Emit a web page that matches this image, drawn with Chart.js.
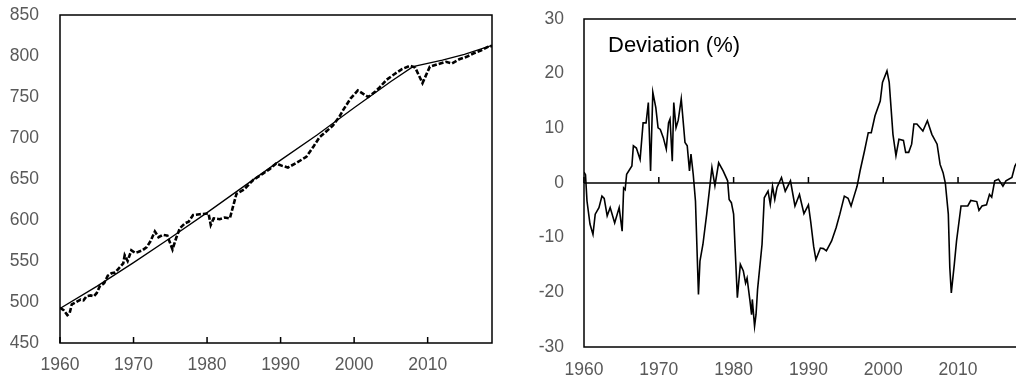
<!DOCTYPE html>
<html>
<head>
<meta charset="utf-8">
<script src="https://cdn.jsdelivr.net/npm/chart.js@4/dist/chart.umd.min.js"></script>
<style>
  html, body { margin: 0; padding: 0; background: #fff; overflow: hidden; width: 1016px; height: 381px; }
  #left { position: absolute; left: 0; top: 0; }
  #right { position: absolute; left: 505px; top: 0; }
</style>
</head>
<body>
<canvas id="left" width="505" height="381"></canvas>
<canvas id="right" width="525" height="381"></canvas>
<script>
// Left panel: trend (solid) and actual (dashed)
const trendYears = [1960, 1965, 1970, 1975, 1980, 1985, 1990, 1995, 2000, 2005, 2008, 2012, 2015, 2018.75];
const trendValues = [492, 519, 548, 578, 609, 641, 673, 704, 737, 769, 787, 795, 802, 813];

const actualYears = [1960.0, 1960.5, 1961.0, 1961.3, 1961.6, 1962.2, 1962.8, 1963.2, 1963.6, 1964.2, 1964.6, 1965.0,
  1965.4, 1966.0, 1966.5, 1967.0, 1967.5, 1968.0, 1968.6, 1968.8, 1969.2, 1969.7, 1970.2, 1970.6, 1971.2, 1971.8,
  1972.3, 1972.9, 1973.4, 1974.0, 1974.6, 1975.3, 1975.8, 1976.3, 1977.0, 1977.5, 1978.1, 1979.0, 1980.2, 1980.5,
  1980.9, 1981.7, 1982.4, 1983.1, 1984.0, 1985.0, 1986.3, 1987.5, 1988.5, 1989.4, 1990.2, 1991.0, 1992.2, 1993.5,
  1994.5, 1995.3, 1996.2, 1997.1, 1998.0, 1998.5, 1999.5, 2000.5, 2001.9, 2002.8, 2003.5, 2004.4, 2005.5, 2006.5,
  2007.6, 2008.3, 2009.3, 2010.3, 2011.4, 2012.5, 2013.3, 2014.3, 2015.3, 2016.2, 2017.3, 2018.4, 2018.75];
const actualValues = [493, 490, 484, 486, 497, 500, 503, 502, 507, 508, 507, 511,
  519, 523, 532, 535, 536, 541, 547, 557, 550, 563, 560, 561, 563, 567,
  574, 586, 579, 582, 581, 564, 578, 590, 596, 598, 606, 607, 608, 594,
  602, 601, 603, 602, 632, 637, 649, 656, 662, 669, 666, 664, 670, 677,
  690, 701, 708, 715, 726, 734, 748, 758, 750, 756, 762, 771, 778, 784,
  788, 786, 767, 787, 790, 793, 791, 796, 799, 803, 807, 812, 812];

// Right panel: deviation (%)
const devYears = [1960.0, 1960.2, 1960.4, 1960.8, 1961.2, 1961.5, 1962.0, 1962.4, 1962.7, 1963.1, 1963.5, 1964.1,
  1964.7, 1965.1, 1965.3, 1965.5, 1965.7, 1966.4, 1966.6, 1967.0, 1967.5, 1967.9, 1968.3, 1968.6, 1968.9, 1969.2,
  1969.6, 1969.9, 1970.2, 1970.6, 1971.0, 1971.3, 1971.5, 1971.8, 1972.0, 1972.3, 1972.6, 1973.0, 1973.5, 1973.8,
  1974.1, 1974.3, 1974.6, 1974.9, 1975.3, 1975.5, 1975.9, 1976.4, 1976.8, 1977.1, 1977.5, 1978.0, 1978.6, 1979.2,
  1979.4, 1979.7, 1980.0, 1980.2, 1980.5, 1980.9, 1981.3, 1981.6, 1981.8, 1982.2, 1982.4, 1982.5, 1982.8, 1983.0,
  1983.2, 1983.8, 1984.1, 1984.6, 1984.9, 1985.2, 1985.5, 1985.8, 1986.4, 1986.9, 1987.6, 1988.2, 1988.8, 1989.4,
  1990.0, 1990.3, 1990.7, 1991.0, 1991.6, 1992.0, 1992.4, 1993.1, 1993.7, 1994.2, 1994.8, 1995.3, 1995.7, 1996.1,
  1996.5, 1996.9, 1997.5, 1998.0, 1998.4, 1998.9, 1999.6, 1999.9, 2000.5, 2000.8, 2001.3, 2001.7, 2002.1, 2002.7,
  2003.0, 2003.4, 2003.8, 2004.1, 2004.5, 2005.3, 2005.9, 2006.5, 2007.2, 2007.6, 2008.0, 2008.3, 2008.7, 2008.9,
  2009.1, 2009.5, 2009.8, 2010.4, 2011.3, 2011.7, 2012.5, 2012.8, 2013.2, 2013.8, 2014.2, 2014.5, 2014.9, 2015.4,
  2016.0, 2016.4, 2017.2, 2017.6, 2018.2, 2018.75];
const devValues = [2, 1.5, -3.3, -7.5, -9.4, -5.7, -4.5, -2.4, -2.8, -6, -4.5, -7.3,
  -4.5, -8.8, -0.9, -1.2, 1.6, 3.1, 6.8, 6.4, 4.3, 11, 11, 14.7, 2.2, 16.6,
  13.8, 10.1, 9.8, 8.3, 6.2, 11, 11.7, 4, 14.7, 10.1, 11.5, 15.4, 7.4, 6.8,
  2.2, 5.3, 1.6, -3.3, -20.4, -14.3, -11.2, -5.7, -0.9, 2.8, -0.5, 3.7, 2.2, 0.4,
  -3, -3.6, -5.7, -11.9, -21, -14.9, -16.1, -18.3, -17.4, -21.7, -24.1, -21.3, -26.2, -24,
  -19.5, -11.2, -2.7, -1.5, -3.9, -0.6, -3, -0.8, 1, -1.5, 0.4, -4.2, -2.1, -5.6,
  -4, -7, -11.6, -14, -11.9, -12, -12.4, -10.6, -8.2, -5.7, -2.4, -2.8, -4.2, -2.4,
  -0.6, 2.2, 5.9, 9.2, 9.2, 12.3, 15, 18.4, 20.5, 18.4, 8.9, 5, 8, 7.8,
  5.6, 5.6, 7.1, 10.8, 10.8, 9.5, 11.4, 8.9, 7.1, 3.4, 1.9, 0, -5.7, -15.5,
  -20.1, -14.9, -10.6, -4.2, -4.2, -3.2, -3.4, -5, -4.2, -4, -2.1, -2.6, 0.4, 0.7,
  -0.6, 0.4, 1, 3.1, 4.5, 5];

const xTicks = [1960, 1970, 1980, 1990, 2000, 2010];
const leftYTicks = [450, 500, 550, 600, 650, 700, 750, 800, 850];
const rightYTicks = [-30, -20, -10, 0, 10, 20, 30];

const FONT = "'Liberation Sans', Arial, sans-serif";
const LABEL_COLOR = '#595959';
const TICK_SIZE = 17.5;

const toPoints = (xs, ys) => xs.map((x, i) => ({ x, y: ys[i] }));

// box around the plot, inward tick marks on the baseline, optional zero line and caption
const framePlugin = {
  id: 'frame',
  afterDraw(chart, args, opts) {
    const { ctx, chartArea: a, scales } = chart;
    const baseY = opts.zeroLine ? scales.y.getPixelForValue(0) : a.bottom;
    ctx.save();
    ctx.strokeStyle = '#000';
    ctx.lineWidth = 1.5;
    ctx.strokeRect(a.left, a.top, a.right - a.left, a.bottom - a.top);
    ctx.beginPath();
    if (opts.zeroLine) { ctx.moveTo(a.left, baseY); ctx.lineTo(a.right, baseY); }
    xTicks.forEach(v => {
      const x = scales.x.getPixelForValue(v);
      ctx.moveTo(x, baseY); ctx.lineTo(x, baseY - 6);
    });
    ctx.stroke();
    if (opts.caption) {
      ctx.fillStyle = '#000';
      ctx.font = `22px ${FONT}`;
      ctx.textBaseline = 'middle';
      ctx.fillText(opts.caption, a.left + 24, a.top + 27);
    }
    ctx.restore();
  }
};

const makeScales = (yMin, yMax, yTicks, yWidth, yPad, xHeight, xPad) => ({
  x: {
    type: 'linear', min: 1960, max: 2018.75,
    afterBuildTicks: s => { s.ticks = xTicks.map(v => ({ value: v })); },
    afterFit: s => { s.height = xHeight; s.paddingLeft = 0; s.paddingRight = 0; },
    grid: { display: false, drawTicks: false },
    border: { display: false },
    ticks: { color: LABEL_COLOR, font: { family: FONT, size: TICK_SIZE }, padding: xPad, maxRotation: 0, autoSkip: false, callback: v => String(v) }
  },
  y: {
    min: yMin, max: yMax,
    afterBuildTicks: s => { s.ticks = yTicks.map(v => ({ value: v })); },
    afterFit: s => { s.width = yWidth; s.paddingTop = 0; s.paddingBottom = 0; },
    grid: { display: false, drawTicks: false },
    border: { display: false },
    ticks: { color: LABEL_COLOR, font: { family: FONT, size: TICK_SIZE }, padding: yPad, autoSkip: false, callback: v => String(v) }
  }
});

new Chart(document.getElementById('left'), {
  type: 'line',
  data: {
    datasets: [
      { data: toPoints(trendYears, trendValues), borderColor: '#000', borderWidth: 1.3, pointRadius: 0 },
      { data: toPoints(actualYears, actualValues), borderColor: '#000', borderWidth: 2.6, borderDash: [5, 2], pointRadius: 0 }
    ]
  },
  options: {
    responsive: false, animation: false,
    layout: { padding: { top: 15, right: 13, left: 0, bottom: 0 } },
    scales: makeScales(450, 850, leftYTicks, 60, 21, 38, 12),
    plugins: { legend: { display: false }, tooltip: { enabled: false }, frame: { zeroLine: false } }
  },
  plugins: [framePlugin]
});

new Chart(document.getElementById('right'), {
  type: 'line',
  data: {
    datasets: [
      { data: toPoints(devYears, devValues), borderColor: '#000', borderWidth: 1.6, pointRadius: 0 }
    ]
  },
  options: {
    responsive: false, animation: false,
    layout: { padding: { top: 19, right: 6.5, left: 0, bottom: 0 } },
    scales: makeScales(-30, 30, rightYTicks, 79, 20, 34, 13),
    plugins: { legend: { display: false }, tooltip: { enabled: false }, frame: { zeroLine: true, caption: 'Deviation (%)' } }
  },
  plugins: [framePlugin]
});
</script>
</body>
</html>
